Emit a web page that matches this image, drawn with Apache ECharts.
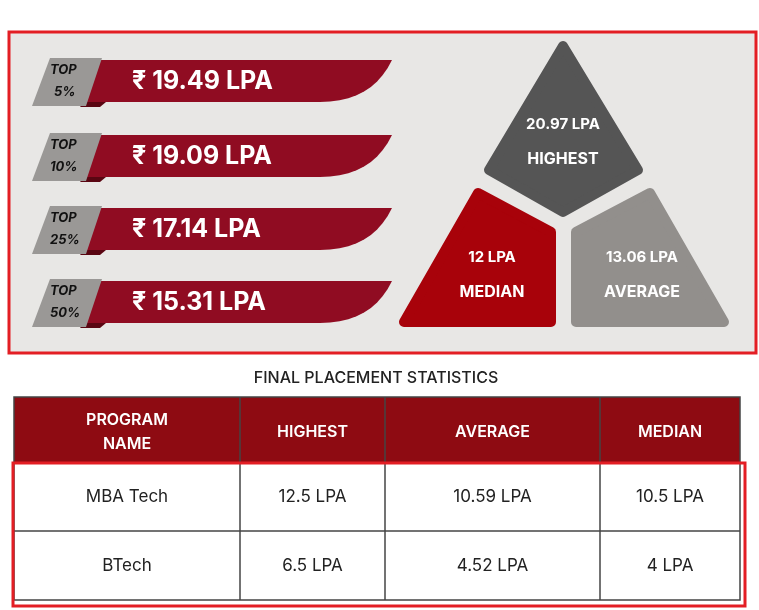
<!DOCTYPE html>
<html>
<head>
<meta charset="utf-8">
<script src="https://cdn.jsdelivr.net/npm/echarts@6/dist/echarts.min.js"></script>
<style>html,body{margin:0;padding:0;background:#fff;}#main{width:759px;height:610px;}</style>
</head>
<body>
<div id="main"></div>
<script>
// percentile packages
var topLabels = ["5%", "10%", "25%", "50%"];
var topValues = [19.49, 19.09, 17.14, 15.31];
// pyramid
var pyramidNames = ["HIGHEST", "MEDIAN", "AVERAGE"];
var pyramidValues = ["20.97", "12", "13.06"];
// table
var tableHeaders = ["PROGRAM\nNAME", "HIGHEST", "AVERAGE", "MEDIAN"];
var programs = ["MBA Tech", "BTech"];
var highest = ["12.5", "6.5"];
var average = ["10.59", "4.52"];
var median = ["10.5", "4"];

var FONT = "Inter";
var chart = echarts.init(document.getElementById("main"));
var g = [];

// ribbon outline with curved right end
function ribbon(y) {
    var pts = [[80, y], [392, y]];
    var p0 = [392, y], c = [372, y + 42], p1 = [320, y + 42];
    for (var t = 0.1; t <= 1.0001; t += 0.1) {
        var a = (1 - t) * (1 - t), b = 2 * (1 - t) * t, d = t * t;
        pts.push([a * p0[0] + b * c[0] + d * p1[0], a * p0[1] + b * c[1] + d * p1[1]]);
    }
    pts.push([80, y + 42]);
    return pts;
}

// top panel
g.push({type:"rect", shape:{x:9, y:32, width:747, height:321}, style:{fill:"#e8e7e5", stroke:"#e31e24", lineWidth:3}});

var rowY = [60, 135, 208, 281];
for (var i = 0; i < topValues.length; i++) {
    var y = rowY[i];
    g.push({type:"polygon", shape:{points:ribbon(y)}, style:{fill:"#900c22"}});
    g.push({type:"polygon", shape:{points:[[84,y+42],[106,y+42],[100,y+47],[80,y+47]]}, style:{fill:"#5a0612"}});
    g.push({type:"polygon", shape:{points:[[50,y-2],[102,y-2],[86,y+46],[32,y+46]]}, style:{fill:"#9a9896"}});
    g.push({type:"text", style:{text:"TOP", x:50, y:y+4, font:"italic bold 13px "+FONT, fill:"#111"}});
    g.push({type:"text", style:{text:topLabels[i], x:i==0?54:50, y:y+26, font:"italic bold 13px "+FONT, fill:"#111"}});
    g.push({type:"text", style:{text:"₹ "+topValues[i]+" LPA", x:132, y:y+21, verticalAlign:"middle", font:"bold 25px "+FONT, fill:"#fff"}});
}

// pyramid pieces (round stroke gives soft corners)
var pieces = [
    {pts:[[563,46],[638,170],[563,212],[489,170]], fill:"#555555", cx:563, cy:142},
    {pts:[[404,322],[478,193],[551,232],[551,322]], fill:"#a8020a", cx:492, cy:275},
    {pts:[[576,232],[650,193],[724,322],[576,322]], fill:"#928f8c", cx:642, cy:275}
];
for (var k = 0; k < pieces.length; k++) {
    var p = pieces[k];
    g.push({type:"polygon", shape:{points:p.pts}, style:{fill:p.fill, stroke:p.fill, lineWidth:10, lineJoin:"round"}});
    g.push({type:"text", style:{text:pyramidValues[k]+" LPA", x:p.cx, y:p.cy-18, align:"center", verticalAlign:"middle", font:"bold 15px "+FONT, fill:"#fff"}});
    g.push({type:"text", style:{text:pyramidNames[k], x:p.cx, y:p.cy+17, align:"center", verticalAlign:"middle", font:"bold 16px "+FONT, fill:"#fff"}});
}

// table
g.push({type:"text", style:{text:"FINAL PLACEMENT STATISTICS", x:376, y:378, align:"center", verticalAlign:"middle", font:"500 16px "+FONT, fill:"#222"}});
var colX = [14, 240, 385, 600, 740];
g.push({type:"rect", shape:{x:14, y:397, width:726, height:65}, style:{fill:"#8e0b12"}});
for (var c = 0; c < tableHeaders.length; c++) {
    var mid = (colX[c] + colX[c+1]) / 2;
    g.push({type:"text", style:{text:tableHeaders[c], x:mid, y:432, align:"center", verticalAlign:"middle", font:"600 16px "+FONT, fill:"#fff", lineHeight:24}});
}
var rows = [programs, highest.map(function(v){return v+" LPA";}), average.map(function(v){return v+" LPA";}), median.map(function(v){return v+" LPA";})];
var rowTop = [462, 531, 600];
for (var r = 0; r < programs.length; r++) {
    for (var c2 = 0; c2 < rows.length; c2++) {
        g.push({type:"text", style:{text:rows[c2][r], x:(colX[c2]+colX[c2+1])/2, y:(rowTop[r]+rowTop[r+1])/2, align:"center", verticalAlign:"middle", font:"17px "+FONT, fill:"#222"}});
    }
}
for (var cc = 1; cc < colX.length - 1; cc++) {
    g.push({type:"line", shape:{x1:colX[cc], y1:397, x2:colX[cc], y2:600}, style:{stroke:"#444", lineWidth:1.5}});
}
g.push({type:"line", shape:{x1:14, y1:531, x2:740, y2:531}, style:{stroke:"#444", lineWidth:1.5}});
g.push({type:"rect", shape:{x:14, y:397, width:726, height:203}, style:{fill:"none", stroke:"#444", lineWidth:1.5}});
g.push({type:"rect", shape:{x:13, y:463, width:732, height:143}, style:{fill:"none", stroke:"#e31e24", lineWidth:3}});

chart.setOption({animation:false, graphic:{elements:g}});
</script>
</body>
</html>
